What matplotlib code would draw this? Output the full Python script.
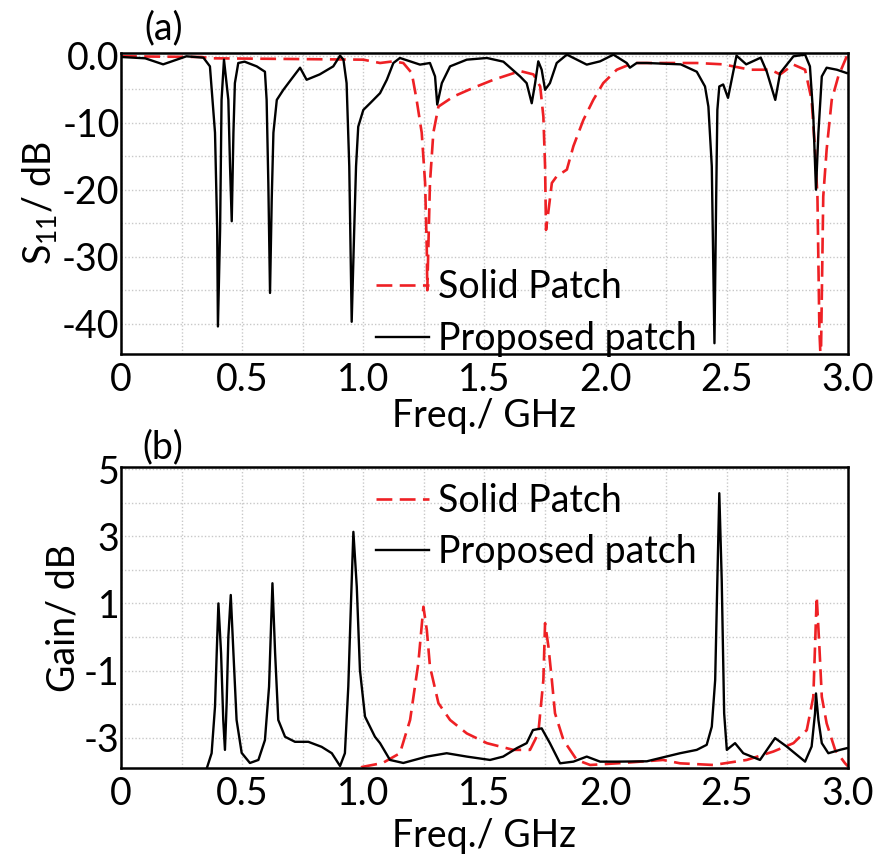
import numpy as np
import matplotlib
matplotlib.use("Agg")
import matplotlib.pyplot as plt
from matplotlib.ticker import MultipleLocator

plt.rcParams['font.family'] = ['Lato', 'DejaVu Sans']
plt.rcParams['mathtext.fontset'] = 'custom'
plt.rcParams['mathtext.rm'] = 'Lato'
plt.rcParams['mathtext.it'] = 'Lato:italic'

# ---- (a) S11, proposed patch ----
s11_prop_f = [0.0, 0.1, 0.174, 0.27, 0.34, 0.367, 0.388, 0.397, 0.40, 0.409, 0.415, 0.425, 0.443, 0.45,
              0.457, 0.464, 0.47, 0.484, 0.51, 0.56, 0.594, 0.601, 0.608, 0.615, 0.622, 0.629, 0.643,
              0.67, 0.697, 0.739, 0.766, 0.82, 0.876, 0.904, 0.918, 0.931, 0.942, 0.952, 0.962, 0.97,
              0.979, 1.0, 1.028, 1.069, 1.097, 1.124, 1.151, 1.193, 1.234, 1.275, 1.296, 1.305, 1.324,
              1.358, 1.427, 1.51, 1.578, 1.647, 1.674, 1.695, 1.709, 1.722, 1.736, 1.75, 1.77, 1.798,
              1.84, 1.922, 1.977, 2.032, 2.087, 2.10, 2.128, 2.17, 2.31, 2.376, 2.41, 2.424, 2.438,
              2.449, 2.456, 2.461, 2.469, 2.485, 2.505, 2.54, 2.58, 2.64, 2.665, 2.70, 2.72, 2.775,
              2.823, 2.843, 2.857, 2.868, 2.878, 2.892, 2.912, 2.954, 2.995]
s11_prop_db = [-0.2, -0.4, -1.3, -0.1, -0.3, -1.6, -11.5, -26.0, -40.4, -26.0, -6.6, -0.6, -6.6, -16.5,
               -24.7, -11.5, -4.1, -1.1, -0.9, -1.6, -2.4, -6.6, -19.0, -35.4, -21.5, -11.5, -6.6,
               -5.1, -3.8, -1.8, -3.6, -2.8, -1.6, 0.0, -0.6, -4.1, -16.5, -39.7, -26.5, -16.5,
               -10.6, -8.1, -7.1, -5.6, -3.6, -1.1, -0.35, -0.85, -1.34, -1.1, -3.1, -7.3, -4.1,
               -1.6, -0.6, -0.35, -0.9, -3.1, -4.1, -7.1, -4.1, -0.85, -2.1, -5.1, -4.1, -1.1,
               0.15, -1.34, -0.85, 0.15, -1.1, -1.8, -1.1, -1.1, -1.3, -2.4, -4.6, -7.6, -16.5,
               -42.9, -21.5, -8.1, -4.6, -4.3, -6.3, 0.0, -1.3, -0.3, -2.4, -6.6, -2.6, -0.1,
               0.15, -1.6, -9.1, -20.0, -11.5, -3.1, -1.8, -2.1, -2.6]

# ---- (a) S11, solid patch ----
s11_solid_f = [0.0, 0.33, 0.38, 0.7, 1.0, 1.069, 1.124, 1.165, 1.20, 1.22, 1.241, 1.255, 1.262, 1.264,
               1.275, 1.289, 1.31, 1.372, 1.454, 1.537, 1.647, 1.702, 1.73, 1.743, 1.75, 1.754, 1.768,
               1.778, 1.798, 1.84, 1.867, 1.908, 1.949, 1.99, 2.046, 2.114, 2.155, 2.266, 2.377, 2.485,
               2.596, 2.68, 2.72, 2.775, 2.823, 2.85, 2.864, 2.874, 2.882, 2.888, 2.898, 2.912, 2.933,
               2.96, 2.995]
s11_solid_db = [-0.1, -0.2, -0.4, -0.5, -0.6, -1.1, -0.85, -1.1, -2.6, -6.6, -11.5, -19.0, -29.0, -35.0,
                -19.0, -11.5, -7.6, -6.1, -4.8, -3.6, -2.3, -2.8, -4.6, -9.1, -16.5, -26.0, -22.0,
                -19.0, -18.0, -17.0, -13.5, -9.6, -6.6, -4.1, -2.1, -1.1, -1.1, -1.1, -1.1, -1.3,
                -2.1, -2.1, -2.8, -1.34, -2.1, -6.6, -14.0, -21.0, -40.9, -46.0, -21.0, -14.0, -6.6,
                -3.1, -0.1]

# ---- (b) Gain, proposed patch ----
gain_prop_f = [0.30, 0.354, 0.374, 0.388, 0.395, 0.402, 0.413, 0.422, 0.429, 0.436, 0.443, 0.453, 0.464,
               0.477, 0.498, 0.532, 0.567, 0.594, 0.611, 0.625, 0.636, 0.649, 0.677, 0.718, 0.773, 0.828,
               0.87, 0.904, 0.924, 0.938, 0.949, 0.959, 0.973, 0.986, 1.007, 1.048, 1.069, 1.11, 1.165,
               1.262, 1.344, 1.427, 1.523, 1.577, 1.633, 1.674, 1.70, 1.736, 1.77, 1.812, 1.867, 1.922,
               1.977, 2.046, 2.17, 2.307, 2.376, 2.417, 2.438, 2.452, 2.461, 2.469, 2.479, 2.489, 2.50,
               2.534, 2.568, 2.637, 2.699, 2.747, 2.823, 2.85, 2.864, 2.868, 2.878, 2.892, 2.919, 2.967,
               2.995]
gain_prop_db = [-6.0, -3.91, -3.46, -2.07, -0.48, 1.0, -0.48, -2.47, -3.36, -1.97, 0.0, 1.25, -0.48,
                -2.47, -3.45, -3.75, -3.66, -3.07, -1.48, 1.6, -0.48, -2.47, -2.97, -3.12, -3.12, -3.27,
                -3.46, -3.84, -3.46, -1.48, 1.0, 3.13, 1.5, -0.98, -2.37, -2.97, -3.16, -3.66, -3.75,
                -3.56, -3.46, -3.56, -3.66, -3.56, -3.31, -3.16, -2.77, -2.72, -3.16, -3.76, -3.71, -3.56,
                -3.71, -3.71, -3.7, -3.46, -3.36, -3.21, -2.67, -1.28, 1.7, 4.28, 1.7, -2.27, -3.36,
                -3.16, -3.46, -3.66, -3.01, -3.26, -3.71, -3.26, -2.27, -1.68, -2.47, -3.16, -3.46, -3.36,
                -3.31]

# ---- (b) Gain, solid patch ----
gain_solid_f = [0.95, 0.994, 1.08, 1.151, 1.193, 1.227, 1.248, 1.262, 1.275, 1.31, 1.358, 1.427, 1.51,
                1.619, 1.688, 1.722, 1.743, 1.75, 1.764, 1.778, 1.791, 1.826, 1.881, 1.936, 2.07, 2.237,
                2.307, 2.445, 2.582, 2.692, 2.775, 2.83, 2.857, 2.871, 2.882, 2.892, 2.912, 2.947, 2.988,
                3.0]
gain_solid_db = [-4.5, -3.87, -3.75, -3.46, -2.47, -0.78, 0.9, 0.21, -0.88, -1.97, -2.47, -2.87, -3.16,
                 -3.36, -3.36, -2.87, -1.28, 0.41, -0.29, -1.28, -2.27, -3.07, -3.66, -3.81, -3.75, -3.66,
                 -3.76, -3.81, -3.66, -3.41, -3.16, -2.77, -1.78, 1.2, -0.29, -1.78, -2.57, -3.36, -3.76,
                 -3.85]

x_ticks = [0, 0.5, 1.0, 1.5, 2.0, 2.5, 3.0]
x_ticklabels = ['0', '0.5', '1.0', '1.5', '2.0', '2.5', '3.0']
s11_ticks = [0, -10, -20, -30, -40]
s11_ticklabels = ['0.0', '-10', '-20', '-30', '-40']
gain_ticks = [5, 3, 1, -1, -3]
gain_ticklabels = ['5', '3', '1', '-1', '-3']

RED = '#ee2024'
FS = 27


def style_axes(ax):
    for sp in ax.spines.values():
        sp.set_linewidth(1.8)
        sp.set_color('black')
    ax.grid(which='both', color='#c8c8c8', linestyle=(0, (1, 1.5)), linewidth=1.0)
    ax.set_axisbelow(True)
    ax.tick_params(which='both', length=0, labelsize=FS)
    ax.tick_params(axis='x', pad=6)
    ax.tick_params(axis='y', pad=1)
    ax.set_xlim(0, 3.0)
    ax.set_xticks(x_ticks)
    ax.set_xticklabels(x_ticklabels)
    ax.xaxis.set_minor_locator(MultipleLocator(0.25))


fig = plt.figure(figsize=(8.78, 8.61), dpi=100)
ax1 = fig.add_axes([0.1378, 0.5889, 0.828, 0.3496])
ax2 = fig.add_axes([0.1378, 0.1080, 0.828, 0.3496])

# (a)
style_axes(ax1)
ax1.plot(s11_solid_f, s11_solid_db, color=RED, lw=1.9, linestyle=(0, (6, 2.8)), label='Solid Patch')
ax1.plot(s11_prop_f, s11_prop_db, color='black', lw=1.7, label='Proposed patch')
ax1.set_ylim(-44.5, 0.4)
ax1.set_yticks(s11_ticks)
ax1.set_yticklabels(s11_ticklabels)
ax1.yaxis.set_minor_locator(MultipleLocator(5))
ax1.set_xlabel('Freq./ GHz', fontsize=FS, labelpad=0)
ax1.set_ylabel('S$_{11}$/ dB', fontsize=FS, labelpad=2)
ax1.legend(loc='upper left', bbox_to_anchor=(0.351, 0.282), frameon=False, fontsize=FS,
           handlelength=1.4, handletextpad=0.25, labelspacing=0.42, borderaxespad=0, borderpad=0)
fig.text(0.187, 0.967, '(a)', fontsize=FS, ha='center', va='center')

# (b)
style_axes(ax2)
ax2.plot(gain_solid_f, gain_solid_db, color=RED, lw=1.9, linestyle=(0, (6, 2.8)), label='Solid Patch')
ax2.plot(gain_prop_f, gain_prop_db, color='black', lw=1.7, label='Proposed patch')
ax2.set_ylim(-3.9, 5.06)
ax2.set_yticks(gain_ticks)
ax2.set_yticklabels(gain_ticklabels)
ax2.yaxis.set_minor_locator(MultipleLocator(1))
ax2.set_xlabel('Freq./ GHz', fontsize=FS, labelpad=4)
ax2.set_ylabel('Gain/ dB', fontsize=FS, labelpad=2)
ax2.legend(loc='upper left', bbox_to_anchor=(0.351, 0.948), frameon=False, fontsize=FS,
           handlelength=1.4, handletextpad=0.25, labelspacing=0.42, borderaxespad=0, borderpad=0)
fig.text(0.185, 0.481, '(b)', fontsize=FS, ha='center', va='center')

fig.savefig('out.png', dpi=100)
